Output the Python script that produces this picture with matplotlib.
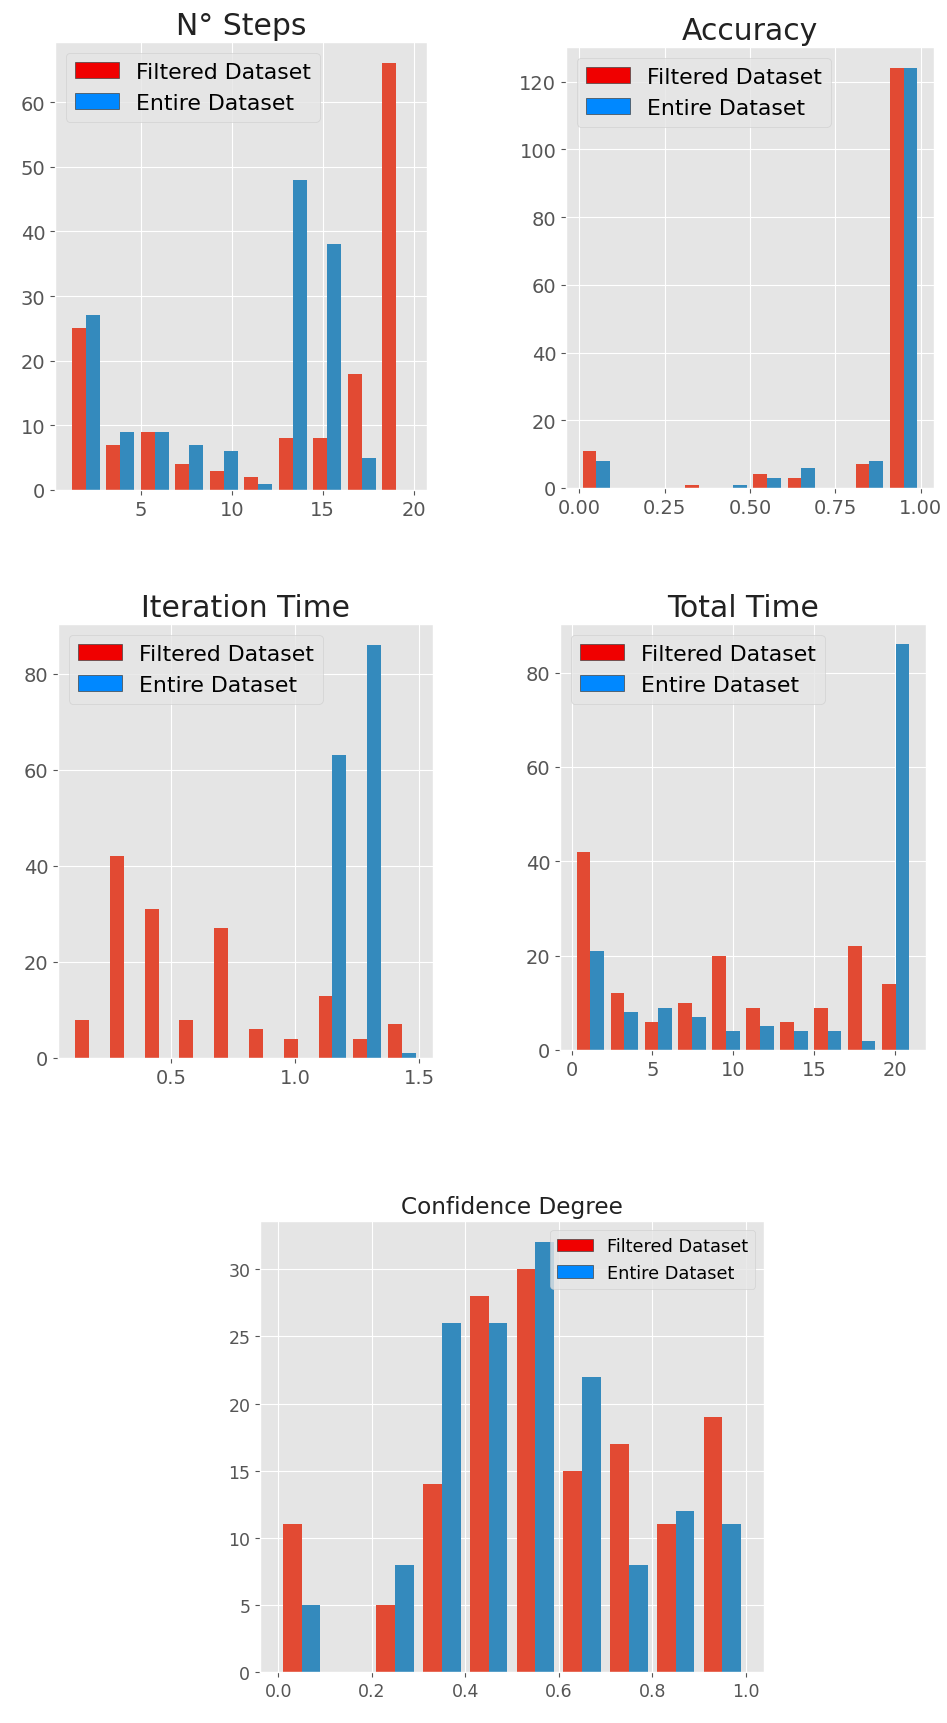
import numpy as np
import matplotlib
matplotlib.use("Agg")
import matplotlib.pyplot as plt
from matplotlib.patches import Patch
from matplotlib.ticker import MultipleLocator

plt.style.use("ggplot")

# histogram counts per bin (10 bins each)
steps_filtered = [25, 7, 9, 4, 3, 2, 8, 8, 18, 66]
steps_entire = [27, 9, 9, 7, 6, 1, 48, 38, 5, 0]
steps_range = (1, 20)

acc_filtered = [11, 0, 0, 1, 0, 4, 3, 0, 7, 124]
acc_entire = [8, 0, 0, 0, 1, 3, 6, 0, 8, 124]
acc_range = (0.0, 1.0)

iter_filtered = [8, 42, 31, 8, 27, 6, 4, 13, 4, 7]
iter_entire = [0, 0, 0, 0, 0, 0, 0, 63, 86, 1]
iter_range = (0.1, 1.5)

total_filtered = [42, 12, 6, 10, 20, 9, 6, 9, 22, 14]
total_entire = [21, 8, 9, 7, 4, 5, 4, 4, 2, 86]
total_range = (0.1, 21.1)

conf_filtered = [11, 0, 5, 14, 28, 30, 15, 17, 11, 19]
conf_entire = [5, 0, 8, 26, 26, 32, 22, 8, 12, 11]
conf_range = (0.0, 1.0)

labels = ["Filtered Dataset", "Entire Dataset"]
W, H = 947, 1724


def px_axes(fig, left, right, top, bottom):
    return fig.add_axes([left / W, (H - bottom) / H, (right - left) / W, (bottom - top) / H])


def draw_hist(ax, rng, filtered, entire, title, title_size, tick_size, leg_size, loc):
    edges = np.linspace(rng[0], rng[1], len(filtered) + 1)
    centers = (edges[:-1] + edges[1:]) / 2
    ax.hist([centers, centers], bins=edges, weights=[filtered, entire])
    ax.set_title(title, fontsize=title_size, color="#222222")
    ax.tick_params(labelsize=tick_size, colors="#555555")
    handles = [Patch(facecolor="#f00000", edgecolor="#444444", label=labels[0]),
               Patch(facecolor="#0088ff", edgecolor="#444444", label=labels[1])]
    ax.legend(handles=handles, loc=loc, fontsize=leg_size)


fig = plt.figure(figsize=(W / 100, H / 100), dpi=100)

ax1 = px_axes(fig, 55, 427, 43, 491)
draw_hist(ax1, steps_range, steps_filtered, steps_entire, "N° Steps", 21.5, 14, 15.8, "upper left")
ax1.xaxis.set_major_locator(MultipleLocator(5))
ax1.yaxis.set_major_locator(MultipleLocator(10))

ax2 = px_axes(fig, 566, 934, 48, 489)
draw_hist(ax2, acc_range, acc_filtered, acc_entire, "Accuracy", 21.5, 14, 15.8, "upper left")
ax2.xaxis.set_major_locator(MultipleLocator(0.25))
ax2.yaxis.set_major_locator(MultipleLocator(20))

ax3 = px_axes(fig, 58, 433, 625, 1059)
draw_hist(ax3, iter_range, iter_filtered, iter_entire, "Iteration Time", 21.5, 14, 15.8, "upper left")
ax3.xaxis.set_major_locator(MultipleLocator(0.5))
ax3.yaxis.set_major_locator(MultipleLocator(20))

ax4 = px_axes(fig, 560, 926, 625, 1051)
draw_hist(ax4, total_range, total_filtered, total_entire, "Total Time", 21.5, 14, 15.8, "upper left")
ax4.xaxis.set_major_locator(MultipleLocator(5))
ax4.yaxis.set_major_locator(MultipleLocator(20))

ax5 = px_axes(fig, 260, 764, 1222, 1673)
draw_hist(ax5, conf_range, conf_filtered, conf_entire, "Confidence Degree", 16.7, 12.5, 12.8, "upper right")
ax5.xaxis.set_major_locator(MultipleLocator(0.2))
ax5.yaxis.set_major_locator(MultipleLocator(5))

fig.savefig("out.png", dpi=100)
